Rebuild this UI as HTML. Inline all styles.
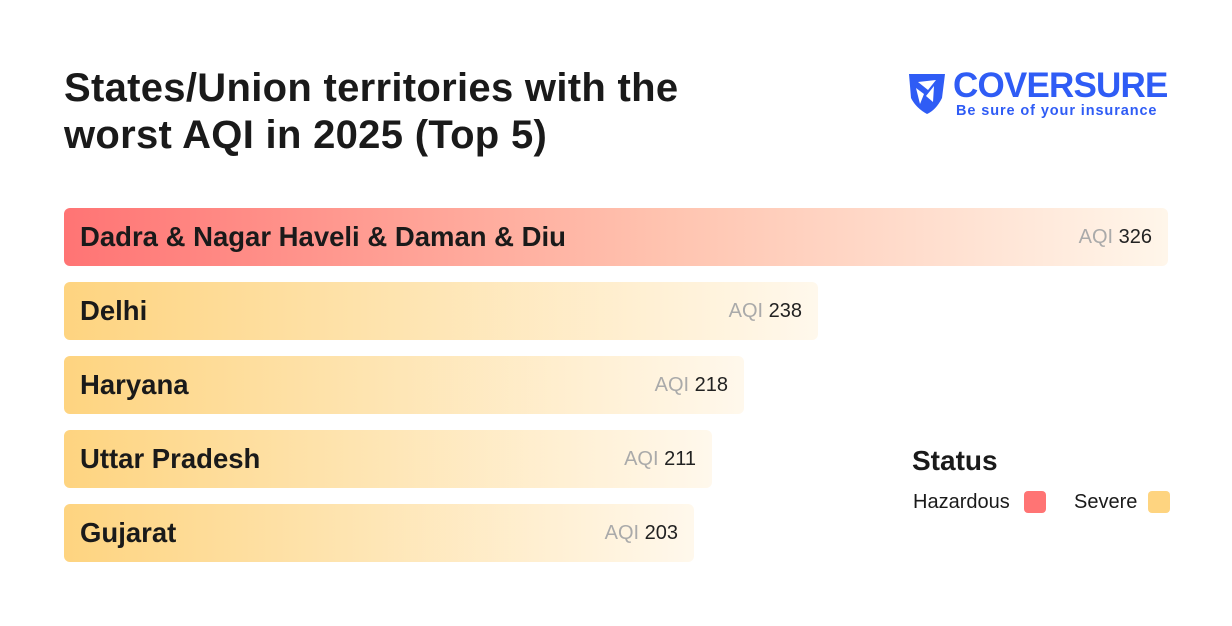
<!DOCTYPE html>
<html><head><style>
body{margin:0;width:1232px;height:626px;background:#fff;font-family:"Liberation Sans",sans-serif;position:relative;overflow:hidden}
.t{position:absolute;left:64px;top:65px;font-size:40px;font-weight:bold;color:#1a1a1a;line-height:47px;letter-spacing:0.3px}
.bar{position:absolute;left:64px;height:58px;border-radius:6px;box-sizing:border-box;display:flex;align-items:center;justify-content:space-between;padding:0 16px}
.bar .n{font-size:27.5px;font-weight:bold;color:#1a1a1a}
.bar .v{font-size:20px;color:#222}
.bar .v span{color:#aaa}
.s{background:linear-gradient(90deg,#fed480,#fff8ec)}
.h{background:linear-gradient(90deg,#ff7474,#ffc4b0 55%,#fff6ea)}
</style></head><body>
<div class="t">States/Union territories with the<br>worst AQI in 2025 (Top 5)</div>
<svg style="position:absolute;left:906px;top:70px" width="42" height="46" viewBox="0 0 42 46">
<path d="M3 4 L39 4 L36 28 Q30 40 21 44 Q10 38 5 28 Z" fill="#2f5cf5"/>
<path d="M12 12 L30 10 L22 20 Z M28 16 L27 32 L20 26 Z M10 18 L18 24 L14 34 Z" fill="#fff"/>
</svg>
<div style="position:absolute;left:953px;top:66px;font-size:35px;font-weight:bold;color:#2f5cf5;letter-spacing:-0.8px">COVERSURE</div>
<div style="position:absolute;left:956px;top:103px;font-size:14.5px;font-weight:bold;color:#2f5cf5;letter-spacing:0.9px">Be sure of your insurance</div>

<div class="bar h" style="top:208px;width:1104px"><span class="n">Dadra &amp; Nagar Haveli &amp; Daman &amp; Diu</span><span class="v"><span>AQI</span> 326</span></div>
<div class="bar s" style="top:282px;width:754px"><span class="n">Delhi</span><span class="v"><span>AQI</span> 238</span></div>
<div class="bar s" style="top:356px;width:680px"><span class="n">Haryana</span><span class="v"><span>AQI</span> 218</span></div>
<div class="bar s" style="top:430px;width:648px"><span class="n">Uttar Pradesh</span><span class="v"><span>AQI</span> 211</span></div>
<div class="bar s" style="top:504px;width:630px"><span class="n">Gujarat</span><span class="v"><span>AQI</span> 203</span></div>

<div style="position:absolute;left:912px;top:445px;font-size:28px;font-weight:bold;color:#1a1a1a">Status</div>
<div style="position:absolute;left:913px;top:491px;font-size:20px;color:#1a1a1a">Hazardous</div>
<div style="position:absolute;left:1024px;top:491px;width:22px;height:22px;border-radius:4px;background:#ff7474"></div>
<div style="position:absolute;left:1074px;top:491px;font-size:20px;color:#1a1a1a">Severe</div>
<div style="position:absolute;left:1148px;top:491px;width:22px;height:22px;border-radius:4px;background:#fed480"></div>
</body></html>
